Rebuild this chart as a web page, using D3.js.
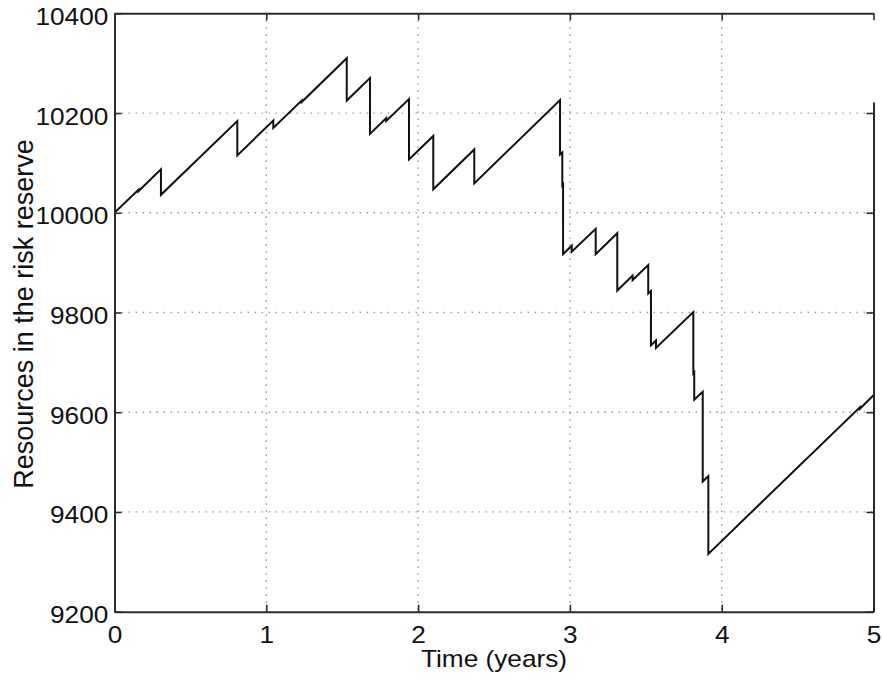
<!DOCTYPE html>
<html>
<head>
<meta charset="utf-8">
<script src="https://cdn.jsdelivr.net/npm/d3@7"></script>
<style>
  html, body { margin: 0; padding: 0; background: #fff; }
  svg { display: block; font-family: "Liberation Sans", Arial, Helvetica, sans-serif; }
</style>
</head>
<body>
<svg id="chart" width="883" height="681"></svg>
<script>
// Surplus path of the risk reserve: vertices of the piecewise-linear trajectory.
// A repeated time marks a claim (instantaneous downward jump).
const timeYears = [
  0,
  0.157, 0.157,
  0.306, 0.306,
  0.809, 0.809,
  1.046, 1.046,
  1.233, 1.233,
  1.530, 1.530,
  1.683, 1.683,
  1.790, 1.790,
  1.940, 1.940,
  2.100, 2.100,
  2.370, 2.370,
  2.935, 2.935,
  2.950, 2.950,
  2.955, 2.955,
  3.012, 3.012,
  3.170, 3.170,
  3.312, 3.312,
  3.413, 3.413,
  3.516, 3.516,
  3.534, 3.534,
  3.567, 3.567,
  3.813, 3.813,
  3.819, 3.819,
  3.875, 3.875,
  3.912, 3.912,
  4.910, 4.910,
  5.000
];
const reserve = [
  10000,
  10046, 10043,
  10087, 10036,
  10184, 10115,
  10185, 10170,
  10225, 10222,
  10310, 10225,
  10270, 10158,
  10190, 10184,
  10228, 10107,
  10154, 10047,
  10127, 10059,
  10226, 10117,
  10121, 10055,
  10057, 9917,
  9934, 9922,
  9968, 9917,
  9959, 9844,
  9874, 9865,
  9895, 9838,
  9843, 9734,
  9744, 9729,
  9801, 9678,
  9680, 9625,
  9641, 9461,
  9472, 9316,
  9610, 9607,
  9634
];

const xTicks = [0, 1, 2, 3, 4, 5];
const yTicks = [9200, 9400, 9600, 9800, 10000, 10200, 10400];
const xLabel = "Time (years)";
const yLabel = "Resources in the risk reserve";

const fontSize = 23;
const stretch = 1.14;          // tick and x-title glyphs are drawn a little wide
const axisColor = "#2a2a2a";
const gridColor = "#a0a0a0";

const svg = d3.select("#chart");

const x = d3.scaleLinear().domain([0, 5]).range([114.5, 873.5]);
const y = d3.scaleLinear().domain([9200, 10400]).range([611.7, 13.3]);

const [x0, x1] = x.range();
const [yB, yT] = y.range();

// dotted grid
const grid = svg.append("g");
grid.selectAll("line.gx")
  .data(xTicks.filter(d => d > 0 && d < 5))
  .join("line")
  .attr("x1", d => x(d)).attr("x2", d => x(d))
  .attr("y1", yT).attr("y2", yB)
  .attr("stroke", gridColor).attr("stroke-width", 1.3)
  .attr("stroke-dasharray", "1.6,5.4");
grid.selectAll("line.gy")
  .data(yTicks.filter(d => d > 9200 && d < 10400))
  .join("line")
  .attr("x1", x0).attr("x2", x1)
  .attr("y1", d => y(d)).attr("y2", d => y(d))
  .attr("stroke", gridColor).attr("stroke-width", 1.3)
  .attr("stroke-dasharray", "1.6,5.4");

// trajectory
const pts = timeYears.map((t, i) => [t, reserve[i]]);
svg.append("path")
  .datum(pts)
  .attr("d", d3.line().x(d => x(d[0])).y(d => y(d[1])))
  .attr("fill", "none")
  .attr("stroke", "#111")
  .attr("stroke-width", 2)
  .attr("stroke-linejoin", "miter");

function styleAxis(g) {
  g.select(".domain").attr("stroke", axisColor).attr("stroke-width", 2);
  g.selectAll(".tick line").attr("stroke", axisColor).attr("stroke-width", 1.6);
  g.selectAll(".tick text")
    .attr("fill", "#111")
    .attr("font-size", fontSize)
    .attr("font-family", "Liberation Sans, Arial, Helvetica, sans-serif");
}

// bottom axis with labels, ticks pointing inward
const gBottom = svg.append("g")
  .attr("transform", `translate(0,${yB})`)
  .call(d3.axisBottom(x).tickValues(xTicks).tickFormat(d3.format("d"))
    .tickSize(-7).tickSizeOuter(0).tickPadding(15.3));
styleAxis(gBottom);
gBottom.selectAll(".tick text").attr("transform", `scale(${stretch},1)`);

// left axis with labels
const gLeft = svg.append("g")
  .attr("transform", `translate(${x0},0)`)
  .call(d3.axisLeft(y).tickValues(yTicks).tickFormat(d3.format("d"))
    .tickSize(-7).tickSizeOuter(0).tickPadding(5.4));
styleAxis(gLeft);
gLeft.selectAll(".tick text")
  .attr("dy", null)
  .attr("y", 11)
  .attr("transform", `scale(${stretch},1)`);

// top axis: ticks only
const gTop = svg.append("g")
  .attr("transform", `translate(0,${yT})`)
  .call(d3.axisTop(x).tickValues(xTicks).tickFormat("")
    .tickSize(-7).tickSizeOuter(0));
styleAxis(gTop);

// right axis: ticks only; the frame edge stops short of the top corner
const yRightTop = 10222;
const rightScale = y.copy().domain([9200, yRightTop]).range([yB, y(yRightTop)]);
const gRight = svg.append("g")
  .attr("transform", `translate(${x1},0)`)
  .call(d3.axisRight(rightScale).tickValues(yTicks.filter(d => d <= yRightTop)).tickFormat("")
    .tickSize(-7).tickSizeOuter(0));
styleAxis(gRight);

// axis titles
svg.append("text")
  .attr("transform", `translate(${(x0 + x1) / 2},667) scale(${stretch},1)`)
  .attr("text-anchor", "middle")
  .attr("font-size", fontSize)
  .attr("fill", "#111")
  .text(xLabel);

svg.append("text")
  .attr("transform", `translate(33,314) rotate(-90)`)
  .attr("text-anchor", "middle")
  .attr("font-size", 27)
  .attr("fill", "#111")
  .text(yLabel);
</script>
</body>
</html>
